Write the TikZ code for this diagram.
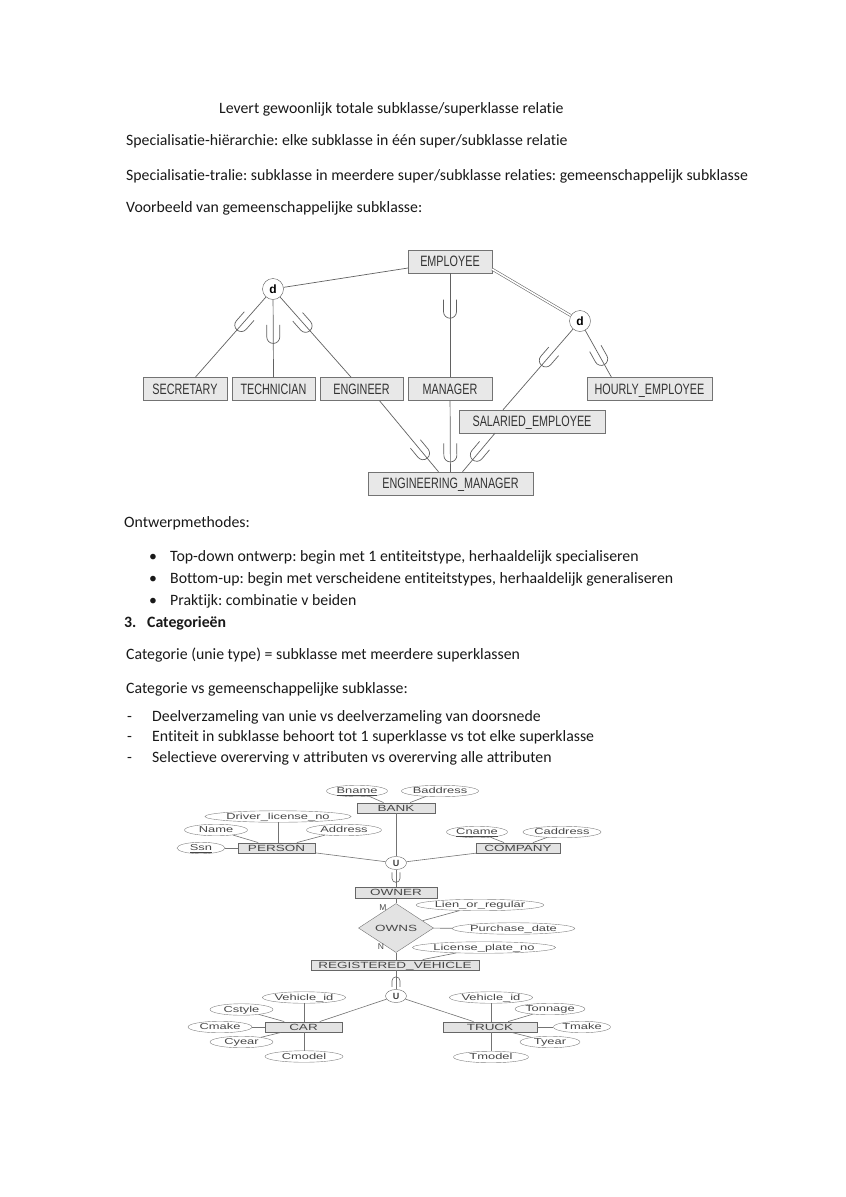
\documentclass[tikz,border=0pt]{standalone}
\usepackage{fontspec}
\setmainfont{Carlito}[Ligatures={NoCommon}]
\newfontfamily\erfont[FakeStretch=0.72]{Liberation Sans}
\newfontfamily\dfont{Liberation Sans}
\newfontfamily\bfont[FakeStretch=1.5]{Liberation Sans}
\usetikzlibrary{shapes.geometric,decorations.markings,calc}
\frenchspacing
\begin{document}
\begin{tikzpicture}[x=1pt,y=-1pt,
  txt/.style={anchor=base west, inner sep=0, text=black!90, font=\fontsize{15.8}{18}\selectfont},
  ent/.style={draw=black!55, fill=black!9, minimum height=23, inner sep=0, text height=11, text depth=1, text=black!80, font=\erfont\fontsize{15}{17}\selectfont},
  dcirc/.style={circle, draw=black!65, fill=white, minimum size=21, inner sep=0, text height=8.6, text depth=0, font=\dfont\bfseries\fontsize{12}{12}\selectfont},
  conn/.style={draw=black!62, line width=0.7pt},
  cup/.style={postaction={decorate, decoration={markings, mark=at position #1 with {\draw[black!62, line width=0.7pt] (-12,6.5) -- (0,6.5) arc[start angle=90, end angle=-90, radius=6.5] -- (-12,-6.5);}}}},
  bent/.style={draw=black!60, fill=black!11, minimum height=10.5, inner sep=0, text height=6.5, text depth=0.5, text=black!72, font=\bfont\fontsize{9}{9}\selectfont},
  attr/.style={ellipse, draw=black!50, fill=white, minimum height=11.5, inner sep=0, text height=6.2, text depth=0.8, text=black!72, font=\bfont\fontsize{8.6}{9}\selectfont},
  bcirc/.style={ellipse, draw=black!60, fill=white, minimum width=21, minimum height=13, inner sep=0, text height=6.5, text depth=0, text=black!75, font=\dfont\bfseries\fontsize{9}{9}\selectfont},
  blab/.style={inner sep=0, text=black!70, font=\dfont\fontsize{8.5}{9}\selectfont},
  bline/.style={draw=black!55, line width=0.6pt},
  cupsmall/.style={postaction={decorate, decoration={markings, mark=at position #1 with {\draw[black!60, line width=0.6pt] (-6,4) -- (0,4) arc[start angle=90, end angle=-90, radius=4] -- (-6,-4);}}}}
]
\useasboundingbox[fill=white] (0,0) rectangle (846,1197);

% ---------- text ----------
\node[txt] (t1) at (219,113) {Levert gewoonlijk totale subklasse/superklasse relatie};
\node[txt] (t2) at (126,145) {Specialisatie-hiërarchie: elke subklasse in één super/subklasse relatie};
\node[txt] (t3) at (126,180) {Specialisatie-tralie: subklasse in meerdere super/subklasse relaties: gemeenschappelijk subklasse};
\node[txt] (t4) at (126,212) {Voorbeeld van gemeenschappelijke subklasse:};

\node[txt] (t5) at (124,527) {Ontwerpmethodes:};
\node[txt] (b1) at (149,561) {\textbullet};
\node[txt] (t6) at (170,561) {Top-down ontwerp: begin met 1 entiteitstype, herhaaldelijk specialiseren};
\node[txt] (b2) at (149,583) {\textbullet};
\node[txt] (t7) at (170,583) {Bottom-up: begin met verscheidene entiteitstypes, herhaaldelijk generaliseren};
\node[txt] (b3) at (149,605) {\textbullet};
\node[txt] (t8) at (170,605) {Praktijk: combinatie v beiden};
\node[txt] (n3) at (124,627) {\bfseries 3.};
\node[txt] (t9) at (147,627) {\bfseries Categorieën};
\node[txt] (t10) at (126,659) {Categorie (unie type) = subklasse met meerdere superklassen};
\node[txt] (t11) at (126,693) {Categorie vs gemeenschappelijke subklasse:};
\node[txt] (d1t) at (127,721) {-};
\node[txt] (t12) at (152,721) {Deelverzameling van unie vs deelverzameling van doorsnede};
\node[txt] (d2t) at (127,741) {-};
\node[txt] (t13) at (152,741) {Entiteit in subklasse behoort tot 1 superklasse vs tot elke superklasse};
\node[txt] (d3t) at (127,762) {-};
\node[txt] (t14) at (152,762) {Selectieve overerving v attributen vs overerving alle attributen};

% ---------- top diagram ----------
\node[ent, minimum width=84] (emp) at (450,261.5) {EMPLOYEE};
\node[ent, minimum width=84] (sec) at (185,389) {SECRETARY};
\node[ent, minimum width=83] (tec) at (273.5,389) {TECHNICIAN};
\node[ent, minimum width=83] (eng) at (361.5,389) {ENGINEER};
\node[ent, minimum width=84] (man) at (450,389) {MANAGER};
\node[ent, minimum width=125] (hou) at (649.5,389) {HOURLY\_EMPLOYEE};
\node[ent, minimum width=146] (sal) at (532,421.5) {SALARIED\_EMPLOYEE};
\node[ent, minimum width=165] (engman) at (450.5,483.5) {ENGINEERING\_MANAGER};
\node[dcirc] (dA) at (273,289) {d};
\node[dcirc] (dB) at (580,321) {d};

\draw[conn] (emp) -- (dA);
\draw[conn, double=white, double distance=1.6pt, line width=0.55pt] ([yshift=4pt]emp.south east) -- (dB);
\draw[conn, cup=0.35] (dA) -- (sec);
\draw[conn, cup=0.48] (dA) -- (tec.north);
\draw[conn, cup=0.36] (dA) -- (eng);
\draw[conn, cup=0.37] (emp) -- (man);
\draw[conn, cup=0.39] (dB) -- ($(sal.north)+(-29,0)$);
\draw[conn, cup=0.61] (dB) -- ($(hou.north)+(-38,0)$);
\draw[conn, cup=0.74] ($(eng.south)+(18,0)$) -- ($(engman.north)+(-12,0)$);
\draw[conn, cup=0.77] (man) -- (engman);
\draw[conn, cup=0.56] ($(sal.south)+(-37,0)$) -- ($(engman.north)+(12,0)$);

% ---------- bottom diagram ----------
\node[attr, minimum width=61] (bname) at (357,791) {\underline{Bname}};
\node[attr, minimum width=75] (badd) at (440,791) {Baddress};
\node[bent, minimum width=78] (bank) at (396,808) {BANK};
\node[attr, minimum width=137] (dln) at (278,816.5) {Driver\_license\_no};
\node[attr, minimum width=63] (name) at (216,830) {Name};
\node[attr, minimum width=75] (addr) at (344,830) {Address};
\node[attr, minimum width=48] (ssn) at (201,848) {\underline{Ssn}};
\node[bent, minimum width=77] (person) at (276.5,848) {PERSON};
\node[bcirc] (u1) at (396,863) {U};
\node[attr, minimum width=61] (cname) at (477,832) {\underline{Cname}};
\node[attr, minimum width=75] (cadd) at (562,832) {Caddress};
\node[bent, minimum width=84] (company) at (518,848) {COMPANY};
\node[bent, minimum width=82] (owner) at (396,892.5) {OWNER};
\node[diamond, draw=black!55, fill=black!11, minimum width=75, minimum height=34, inner sep=0, text height=6.5, text depth=0.5, text=black!72, font=\bfont\fontsize{9}{9}\selectfont] (owns) at (396,928) {OWNS};
\node[blab] (lm) at (383,908) {M};
\node[blab] (ln) at (381,947) {N};
\node[attr, minimum width=114] (lien) at (480,905) {Lien\_or\_regular};
\node[attr, minimum width=113] (pdate) at (513.5,928.5) {Purchase\_date};
\node[attr, minimum width=132] (lpn) at (484,947.5) {License\_plate\_no};
\node[bent, minimum width=168] (reg) at (395,965) {REGISTERED\_VEHICLE};
\node[bcirc] (u2) at (396,996) {U};

\node[bent, minimum width=77] (car) at (303.5,1027) {CAR};
\node[attr, minimum width=78] (cvid) at (304,997.5) {Vehicle\_id};
\node[attr, minimum width=63] (cstyle) at (241.5,1009.5) {Cstyle};
\node[attr, minimum width=64] (cmake) at (220,1027) {Cmake};
\node[attr, minimum width=63] (cyear) at (241.5,1042) {Cyear};
\node[attr, minimum width=78] (cmodel) at (304,1056.5) {Cmodel};

\node[bent, minimum width=94] (truck) at (490,1027) {TRUCK};
\node[attr, minimum width=75] (tvid) at (491,997.5) {Vehicle\_id};
\node[attr, minimum width=66] (tonn) at (550,1009) {Tonnage};
\node[attr, minimum width=57] (tmake) at (582,1027) {Tmake};
\node[attr, minimum width=60] (tyear) at (550,1042) {Tyear};
\node[attr, minimum width=75] (tmodel) at (491,1057) {Tmodel};

\draw[bline] (bname) -- (bank);
\draw[bline] (badd) -- (bank);
\draw[bline] (bank.south) -- (u1.north);
\draw[bline] (dln.south) -- (dln.south |- person.north);
\draw[bline] (name) -- (person);
\draw[bline] (addr) -- (person);
\draw[bline] (ssn) -- (person);
\draw[bline] (person) -- (u1);
\draw[bline] (company) -- (u1);
\draw[bline] (cname) -- (company);
\draw[bline] (cadd) -- (company);
\draw[bline, cupsmall=0.5] (u1.south) -- (u1.south |- owner.north);
\draw[bline] (owner.south) -- (owns.north);
\draw[bline] (owns.south) -- (owns.south |- reg.north);
\draw[bline] (lien) -- (owns);
\draw[bline] (pdate) -- (owns);
\draw[bline] (lpn) -- (reg);
\draw[bline, cupsmall=0.45] (u2.north) -- (u2.north |- reg.south);
\draw[bline] (u2) -- (car);
\draw[bline] (u2) -- (truck);
\draw[bline] (cvid.south) -- (cvid.south |- car.north);
\draw[bline] (cstyle) -- (car);
\draw[bline] (cmake) -- (car);
\draw[bline] (cyear) -- (car);
\draw[bline] (cmodel.north) -- (cmodel.north |- car.south);
\draw[bline] (tvid.south) -- (tvid.south |- truck.north);
\draw[bline] (tonn) -- (truck);
\draw[bline] (tmake) -- (truck);
\draw[bline] (tyear) -- (truck);
\draw[bline] (tmodel.north) -- (tmodel.north |- truck.south);
\end{tikzpicture}
\end{document}
